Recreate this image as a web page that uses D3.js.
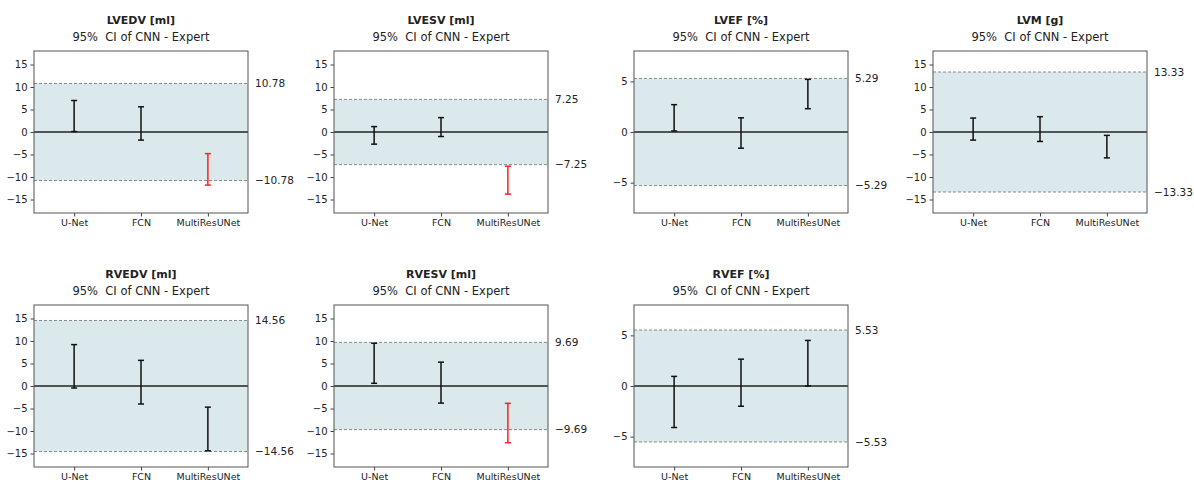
<!DOCTYPE html>
<html>
<head>
<meta charset="utf-8">
<script src="https://cdn.jsdelivr.net/npm/d3@7"></script>
<style>
  body { margin: 0; background: #fff; }
  text { font-family: "DejaVu Sans", sans-serif; fill: #222; }
</style>
</head>
<body>
<div id="vis"></div>
<script>
const WIDTH = 1194;
const HEIGHT = 482;

// datos
const METODOS = ["U-Net", "FCN", "MultiResUNet"];
const PANELES = ["LVEDV [ml]", "LVESV [ml]", "LVEF [%]", "LVM [g]", "RVEDV [ml]", "RVESV [ml]", "RVEF [%]"];
const LIMITES = [10.78, 7.25, 5.29, 13.33, 14.56, 9.69, 5.53];
const Y_MAX = [18, 18, 8, 18, 18, 18, 8];
const Y_TICKS = [
  [-15, -10, -5, 0, 5, 10, 15],
  [-15, -10, -5, 0, 5, 10, 15],
  [-5, 0, 5],
  [-15, -10, -5, 0, 5, 10, 15],
  [-15, -10, -5, 0, 5, 10, 15],
  [-15, -10, -5, 0, 5, 10, 15],
  [-5, 0, 5]
];
const CI_INF = [
  [0.1, -1.8, -11.8],
  [-2.7, -1.0, -13.8],
  [0.1, -1.6, 2.3],
  [-1.8, -2.1, -5.75],
  [-0.45, -4.0, -14.4],
  [0.6, -3.8, -12.6],
  [-4.1, -2.0, 0.0]
];
const CI_SUP = [
  [7.0, 5.6, -4.8],
  [1.2, 3.2, -7.6],
  [2.7, 1.4, 5.2],
  [3.1, 3.4, -0.75],
  [9.2, 5.7, -4.7],
  [9.5, 5.3, -3.85],
  [0.95, 2.65, 4.5]
];

const PANEL_X = [34, 334, 634, 933];
const PANEL_Y = [51, 305];
const W = 214;
const H = 162;

const SVG = d3.select("#vis").append("svg")
  .attr("width", WIDTH)
  .attr("height", HEIGHT);

const fmtMenos = v => (v < 0 ? "\u2212" : "") + Math.abs(v).toFixed(2);

PANELES.forEach((nombre, i) => {
  const x0 = PANEL_X[i % 4];
  const y0 = PANEL_Y[Math.floor(i / 4)];
  const lim = LIMITES[i];

  const g = SVG.append("g").attr("transform", `translate(${x0},${y0})`);

  const x = d3.scaleLinear().domain([-0.6, METODOS.length - 0.4]).range([0, W]);
  const y = d3.scaleLinear().domain([-Y_MAX[i], Y_MAX[i]]).range([H, 0]);

  // zona de acuerdo
  g.append("rect")
    .attr("x", 0)
    .attr("y", y(lim))
    .attr("width", W)
    .attr("height", y(-lim) - y(lim))
    .attr("fill", "#dbe9ec");

  [lim, -lim].forEach(v => {
    g.append("line")
      .attr("x1", 0).attr("x2", W)
      .attr("y1", y(v)).attr("y2", y(v))
      .attr("stroke", "#888")
      .attr("stroke-width", 1)
      .attr("stroke-dasharray", "3,2");
    g.append("text")
      .attr("x", W + 7)
      .attr("y", y(v))
      .attr("dy", "0.35em")
      .attr("font-size", "10.5px")
      .text(fmtMenos(v));
  });

  g.append("line")
    .attr("x1", 0).attr("x2", W)
    .attr("y1", y(0)).attr("y2", y(0))
    .attr("stroke", "#222")
    .attr("stroke-width", 1.4);

  // barras de error
  METODOS.forEach((m, j) => {
    const lo = CI_INF[i][j];
    const hi = CI_SUP[i][j];
    const color = (lo < -lim || hi > lim) ? "#ff2020" : "#111";
    const cx = x(j);
    g.append("line")
      .attr("x1", cx).attr("x2", cx)
      .attr("y1", y(lo)).attr("y2", y(hi))
      .attr("stroke", color).attr("stroke-width", 1.5);
    [lo, hi].forEach(v => {
      g.append("line")
        .attr("x1", cx - 3).attr("x2", cx + 3)
        .attr("y1", y(v)).attr("y2", y(v))
        .attr("stroke", color).attr("stroke-width", 1.5);
    });
  });

  // ejes
  const ejeY = g.append("g")
    .call(d3.axisLeft(y).tickValues(Y_TICKS[i]).tickSize(3.5).tickPadding(3).tickFormat(d3.format("d")));
  ejeY.select(".domain").remove();
  ejeY.selectAll("line").attr("stroke", "#444");
  ejeY.selectAll("text").attr("font-size", "10px").attr("font-family", "DejaVu Sans").attr("fill", "#222");

  const ejeX = g.append("g")
    .attr("transform", `translate(0,${H})`)
    .call(d3.axisBottom(x).tickValues(METODOS.map((m, j) => j)).tickSize(3.5).tickPadding(3).tickFormat(j => METODOS[j]));
  ejeX.select(".domain").remove();
  ejeX.selectAll("line").attr("stroke", "#444");
  ejeX.selectAll("text").attr("font-size", "9.5px").attr("font-family", "DejaVu Sans").attr("fill", "#222");

  g.append("rect")
    .attr("x", 0).attr("y", 0)
    .attr("width", W).attr("height", H)
    .attr("fill", "none")
    .attr("stroke", "#555")
    .attr("stroke-width", 1);

  // titulos
  g.append("text")
    .attr("x", W / 2).attr("y", -27)
    .attr("text-anchor", "middle")
    .attr("font-size", "11px")
    .attr("font-weight", "bold")
    .text(nombre);
  g.append("text")
    .attr("x", W / 2).attr("y", -10)
    .attr("text-anchor", "middle")
    .attr("font-size", "11.5px")
    .style("white-space", "pre")
    .text("95%  CI of CNN - Expert");
});
</script>
</body>
</html>
